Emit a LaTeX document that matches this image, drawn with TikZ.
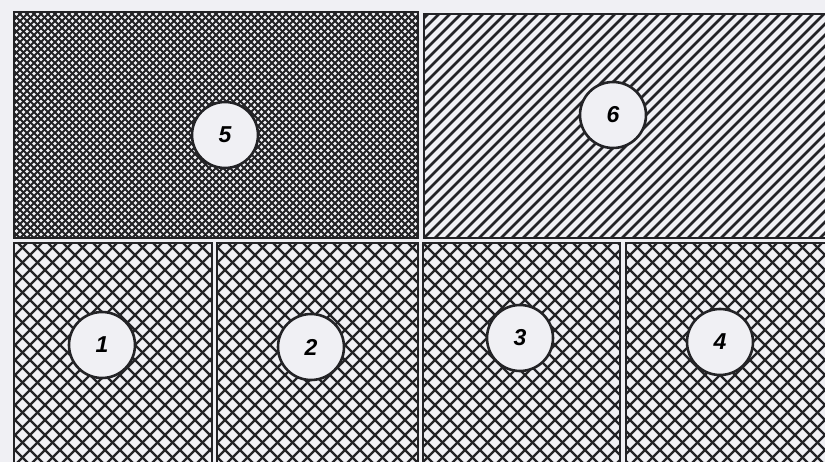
\documentclass[tikz,border=0pt]{standalone}
\usepackage{fontspec}
\newfontfamily\numfont{Liberation Sans}
\definecolor{bgc}{RGB}{240,240,244}
\definecolor{ink}{RGB}{35,35,38}
\begin{document}
\begin{tikzpicture}[x=1pt,y=-1pt,
  frame/.style={draw=ink,line width=2pt},
  hatchfine/.style={draw=ink,line width=1.9pt},
  hatchdiag/.style={draw=ink,line width=2.6pt},
  hatchnet/.style={draw=ink,line width=2.3pt},
  numc/.style={circle,draw=ink,line width=2.6pt,fill=bgc,minimum size=66pt,inner sep=0pt,
    font=\numfont\bfseries\itshape\fontsize{23}{23}\selectfont}]
\fill[bgc] (0,0) rectangle (825,462);
\useasboundingbox (0,0) rectangle (825,462);

% cell 5: fine crosshatch
\begin{scope}
  \clip (14,12) rectangle (418,238);
  \foreach \k in {-470,-463,...,900} {
    \draw[hatchfine] (\k,0) -- ++(470,470);
    \draw[hatchfine] (\k,0) -- ++(-470,470);
  }
\end{scope}
% cell 6: diagonal lines
\begin{scope}
  \clip (424,14) rectangle (830,238);
  \foreach \k in {420,431,...,1320} {
    \draw[hatchdiag] (\k,0) -- ++(-470,470);
  }
\end{scope}
% bottom cells: coarse crosshatch
\begin{scope}
  \clip (14,243) rectangle (212,470) (217,243) rectangle (418,470)
        (423,243) rectangle (620,470) (626,243) rectangle (830,470);
  \foreach \k in {-480,-465,...,1320} {
    \draw[hatchnet] (\k,0) -- ++(480,480);
    \draw[hatchnet] (\k,0) -- ++(-480,480);
  }
\end{scope}

% frames
\draw[frame] (14,12) rectangle (418,238);
\draw[frame] (424,14) rectangle (830,238);
\draw[frame] (14,243) rectangle (212,470);
\draw[frame] (217,243) rectangle (418,470);
\draw[frame] (423,243) rectangle (620,470);
\draw[frame] (626,243) rectangle (830,470);

% numbered circles
\node[numc] (n5) at (225,135) {5};
\node[numc] (n6) at (613,115) {6};
\node[numc] (n1) at (102,345) {1};
\node[numc] (n2) at (311,347) {2};
\node[numc] (n3) at (520,338) {3};
\node[numc] (n4) at (720,342) {4};
\end{tikzpicture}
\end{document}
